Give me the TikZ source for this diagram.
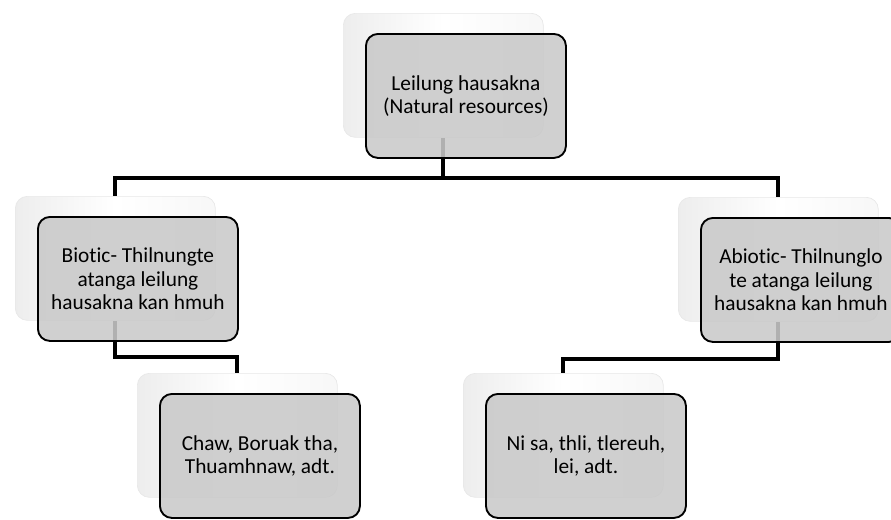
\documentclass[tikz,border=0pt]{standalone}
\usepackage{fontspec}
\setmainfont{Carlito}[Ligatures=NoCommon]
\usetikzlibrary{backgrounds}
\definecolor{boxgray}{RGB}{201,201,201}
\begin{document}
\begin{tikzpicture}[x=0.75pt,y=-0.75pt,
  backbox/.style={rounded corners=9pt, minimum width=150pt, minimum height=93pt,
    draw=gray!18, line width=0.5pt, left color=gray!14, right color=gray!6, middle color=white,
    anchor=north west, inner sep=0pt},
  frontbox/.style={rounded corners=9pt, minimum width=150pt, minimum height=93pt,
    draw=black, line width=1.4pt, fill=boxgray, fill opacity=0.88, text opacity=1,
    anchor=north west, align=center, inner sep=2pt,
    font=\fontsize{16}{17.6}\selectfont},
  conn/.style={line width=3pt, draw=black, line join=miter}]
\useasboundingbox (0,0) rectangle (891,519);
% top
\node[backbox] (tb) at (343,13) {};
\node[frontbox] (tf) at (365,33) {Leilung hausakna\\(Natural resources)};
% level 2
\node[backbox] (lb) at (15,196) {};
\node[frontbox] (lf) at (37,216) {Biotic- Thilnungte\\atanga leilung\\hausakna kan hmuh};
\node[backbox] (rb) at (678,197) {};
\node[frontbox] (rf) at (700,217) {Abiotic- Thilnunglo\\te atanga leilung\\hausakna kan hmuh};
% level 3
\node[backbox] (lcb) at (137,373) {};
\node[frontbox] (lcf) at (159,393) {Chaw, Boruak tha,\\Thuamhnaw, adt.};
\node[backbox] (rcb) at (463,373) {};
\node[frontbox] (rcf) at (485,393) {Ni sa, thli, tlereuh,\\lei, adt.};
% junction coordinates
\coordinate (bar) at (0,178);
\coordinate (lj) at (0,357);
\coordinate (rj) at (0,359);
\begin{scope}[on background layer]
  \draw[conn] (tb.south) -- (tb.south |- bar);
  \draw[conn] (lb.north) -- (lb.north |- bar) -- (rb.north |- bar) -- (rb.north);
  \draw[conn] (lb.south) -- (lb.south |- lj) -| (lcb.north);
  \draw[conn] (rb.south) -- (rb.south |- rj) -| (rcb.north);
\end{scope}
\end{tikzpicture}
\end{document}
